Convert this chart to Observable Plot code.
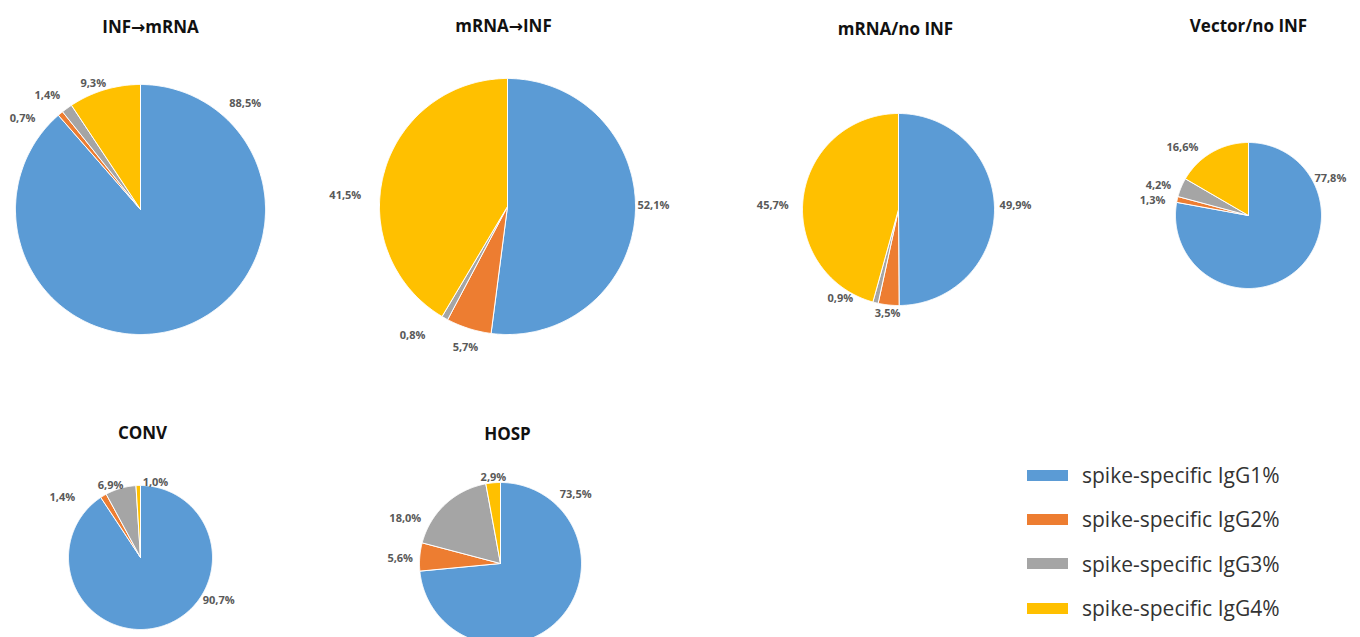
<!DOCTYPE html>
<html><head><meta charset="utf-8">
<script src="https://cdn.jsdelivr.net/npm/d3@7"></script>
<script src="https://cdn.jsdelivr.net/npm/@observablehq/plot@0.6"></script>
<style>
body{margin:0;background:#fff;font-family:"Open Sans",sans-serif}
#wrap{position:relative;width:1360px;height:637px;overflow:hidden}
#legend{position:absolute;left:1027px;top:453px}
.item{display:flex;align-items:center;height:44.3px;font-size:21px;color:#333}
.sw{width:41px;height:11px;margin-right:14px;flex:none}
</style></head><body>
<div id="wrap"><div id="chart"></div><div id="legend"></div></div>
<script>
// ---- data ----
const groups = ["INF→mRNA", "mRNA→INF", "mRNA/no INF", "Vector/no INF", "CONV", "HOSP"];
const subclasses = ["spike-specific IgG1%", "spike-specific IgG2%", "spike-specific IgG3%", "spike-specific IgG4%"];
const igg1 = [88.5, 52.1, 49.9, 77.8, 90.7, 73.5];
const igg2 = [0.7, 5.7, 3.5, 1.3, 1.4, 5.6];
const igg3 = [1.4, 0.8, 0.9, 4.2, 6.9, 18.0];
const igg4 = [9.3, 41.5, 45.7, 16.6, 1.0, 2.9];
const colors = ["#5B9BD5", "#ED7D31", "#A5A5A5", "#FFC000"];

// ---- layout (pie placement in the picture) ----
const pieCx = [140, 507, 898, 1248, 140, 500];
const pieCy = [209, 206, 209, 215, 557, 563];
const pieR  = [125, 128, 96, 73, 72, 81];
const titleX = [150, 503, 895, 1248, 142, 507];
const titleY = [27, 26, 29, 26, 433, 434];
// label direction (deg clockwise from top) and distance (in radii) per slice
const labelAngle = [
  [44.7, 307.6, 320.8, 339.5],
  [89.6, 196.6, 216.4, 273.9],
  [88, 186, 213.1, 272],
  [65.7, 278.9, 288.4, 315.9],
  [118.9, 307.6, 337.4, 11.3],
  [47.4, 272.9, 295.3, 355.3]
];
const labelDist = [
  [1.19, 1.19, 1.18, 1.08],
  [1.14, 1.15, 1.25, 1.27],
  [1.22, 1.09, 1.11, 1.31],
  [1.23, 1.33, 1.30, 1.30],
  [1.24, 1.37, 1.08, 1.06],
  [1.26, 1.24, 1.30, 1.07]
];

const series = [igg1, igg2, igg3, igg4];
const fmt = v => d3.format(".1f")(v).replace(".", ",") + "%";

const slicePts = [];
const labels = [];
const titles = [];
groups.forEach((g, i) => {
  const vals = series.map((s, k) => ({k, value: s[i]}));
  const arcs = d3.pie().sort(null).value(d => d.value)(vals);
  const cx = pieCx[i], cy = pieCy[i], r = pieR[i];
  arcs.forEach(a => {
    const id = i + "-" + a.data.k;
    const sub = subclasses[a.data.k];
    const n = Math.max(2, Math.ceil((a.endAngle - a.startAngle) / (Math.PI / 360)));
    slicePts.push({id, sub, x: cx, y: cy});
    for (let j = 0; j <= n; j++) {
      const t = a.startAngle + (a.endAngle - a.startAngle) * j / n;
      slicePts.push({id, sub, x: cx + r * Math.sin(t), y: cy - r * Math.cos(t)});
    }
    slicePts.push({id, sub, x: cx, y: cy});
    const ang = labelAngle[i][a.data.k] * Math.PI / 180;
    const d = labelDist[i][a.data.k] * r;
    labels.push({x: cx + d * Math.sin(ang), y: cy - d * Math.cos(ang), text: fmt(a.data.value)});
  });
  titles.push({x: titleX[i], y: titleY[i], text: g});
});

const chart = Plot.plot({
  width: 1360, height: 637,
  marginLeft: 0, marginRight: 0, marginTop: 0, marginBottom: 0,
  x: {domain: [0, 1360], range: [0, 1360], axis: null},
  y: {domain: [0, 637], range: [0, 637], axis: null},
  color: {domain: subclasses, range: colors},
  style: {fontFamily: "'Open Sans', sans-serif", background: "#fff"},
  marks: [
    Plot.line(slicePts, {x: "x", y: "y", z: "id", fill: "sub", stroke: "white", strokeWidth: 1, strokeLinejoin: "round", curve: "linear"}),
    Plot.text(labels, {x: "x", y: "y", text: "text", fontSize: 11, fontWeight: 700, fill: "#595959"}),
    Plot.text(titles, {x: "x", y: "y", text: "text", fontSize: 17, fontWeight: 700, fill: "#111", fontFamily: "'Open Sans', 'DejaVu Sans', sans-serif"})
  ]
});
document.getElementById("chart").appendChild(chart);

const scale = chart.scale("color");
const legend = document.getElementById("legend");
subclasses.forEach(s => {
  const it = document.createElement("div");
  it.className = "item";
  const sw = document.createElement("span");
  sw.className = "sw";
  sw.style.background = scale.apply(s);
  const tx = document.createElement("span");
  tx.textContent = s;
  it.appendChild(sw); it.appendChild(tx);
  legend.appendChild(it);
});
</script>
</body></html>
